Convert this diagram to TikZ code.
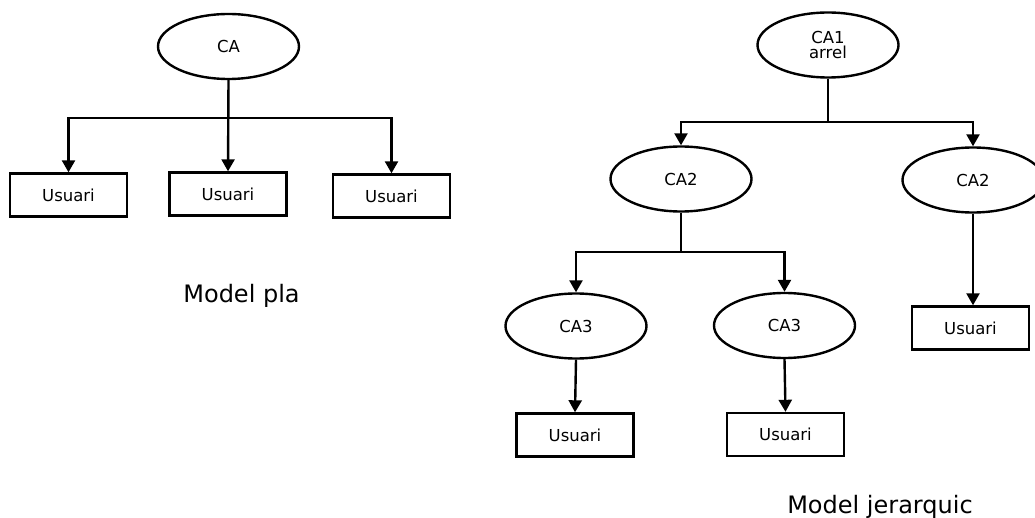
\documentclass[tikz,border=0pt]{standalone}
\usepackage{fontspec}
\setmainfont{DejaVu Sans}
\usetikzlibrary{shapes.geometric,arrows.meta}

\begin{document}
\begin{tikzpicture}[
  x=1pt, y=-1pt,
  every node/.style={font=\fontsize{16.5}{16}\selectfont},
  ca/.style={draw, line width=2.4pt, ellipse, inner sep=0pt,
             minimum width=141pt, minimum height=65pt, align=center},
  user/.style={draw, line width=2.4pt, rectangle, inner sep=0pt,
               minimum width=117pt, minimum height=43pt},
  link/.style={line width=2.4pt},
  arr/.style={line width=2.4pt, -{Triangle[length=12pt,width=13pt]}},
  caption/.style={font=\fontsize{24}{24}\selectfont, anchor=base},
]
\useasboundingbox (0,0) rectangle (1035,518);

% ---- flat model ----
\node[ca] (ca) at (228.5,46.5) {CA};
\node[user] (u1) at (68.5,195) {Usuari};
\node[user] (u2) at (228,194) {Usuari};
\node[user] (u3) at (391.5,196) {Usuari};
\coordinate (j0) at (229,118);

\draw[arr] (ca.south) -- (u2.north);
\draw[arr] (j0) -| (u1.north);
\draw[arr] (j0) -| (u3.north);

\node[caption] (tpla) at (241.5,302) {Model pla};

% ---- hierarchical model ----
\node[ca] (ca1) at (828,45) {CA1\\[-1pt]arrel};
\node[ca] (ca2a) at (681,179) {CA2};
\node[ca] (ca2b) at (973,180) {CA2};
\node[ca] (ca3a) at (576,326) {CA3};
\node[ca] (ca3b) at (784.5,325.5) {CA3};
\node[user] (u3a) at (575,435) {Usuari};
\node[user] (u3b) at (785.5,434.5) {Usuari};
\node[user] (u2b) at (970.5,328) {Usuari};

\coordinate (j1) at (828,122);
\coordinate (j2) at (681,252);

\draw[link] (ca1.south) -- (j1);
\draw[arr] (j1) -| (ca2a.north);
\draw[arr] (j1) -| (ca2b.north);

\draw[link] (ca2a.south) -- (j2);
\draw[arr] (j2) -| (ca3a.north);
\draw[arr] (j2) -| (ca3b.north);

\draw[arr] (ca3a.south) -- (u3a.north);
\draw[arr] (ca3b.south) -- (u3b.north);
\draw[arr] (ca2b.south) -- (ca2b.south |- u2b.north);

\node[caption] (tjer) at (880,513) {Model jerarquic};
\end{tikzpicture}
\end{document}
